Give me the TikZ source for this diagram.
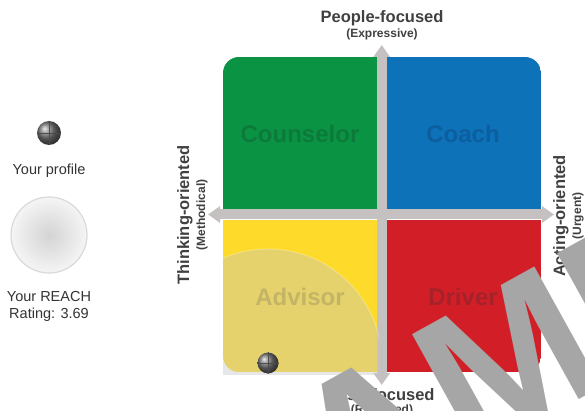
\documentclass[tikz,border=0pt]{standalone}
\usepackage{fontspec}
\setmainfont{Liberation Sans}
\usetikzlibrary{arrows.meta}
\definecolor{cgreen}{HTML}{0B9344}
\definecolor{cblue}{HTML}{0E72B9}
\definecolor{cyellow}{HTML}{FEDB2B}
\definecolor{cred}{HTML}{D21F27}
\definecolor{caxis}{HTML}{C6C1C1}
\definecolor{tgreen}{HTML}{0C7A3B}
\definecolor{tblue}{HTML}{0D5E9E}
\definecolor{tyellow}{HTML}{C4B466}
\definecolor{tred}{HTML}{A6222A}
\definecolor{labtext}{HTML}{404040}
\definecolor{wm}{HTML}{A6A6A6}
\tikzset{
  axislbl/.style={inner sep=0, text=labtext, font=\fontsize{16.5}{18}\selectfont\bfseries},
  axissub/.style={inner sep=0, text=labtext, font=\fontsize{12}{13}\selectfont\bfseries},
  quadlbl/.style={inner sep=0, font=\fontsize{24}{26}\selectfont\bfseries},
  sidetext/.style={inner sep=0, text=black!80, font=\fontsize{14.5}{16}\selectfont},
  axisarrow/.style={draw=caxis, line width=10pt, {Triangle[width=16pt,length=12pt]}-{Triangle[width=16pt,length=12pt]}},
  profdot/.style={circle, inner sep=0, shading=ball, ball color=black!55},
}
\begin{document}
\begin{tikzpicture}[x=1pt,y=-1pt]
\useasboundingbox (0,0) rectangle (585,411);
\begin{scope}
\clip (0,0) rectangle (585,411);
% quadrants
\begin{scope}
\clip[rounded corners=16] (223,57) rectangle (541,372);
\fill[cgreen] (223,57) rectangle (376.7,209);
\fill[cblue] (386.7,57) rectangle (541,209);
\fill[cyellow] (223,220) rectangle (376.7,372);
\fill[cred] (386.7,220) rectangle (541,372);
\end{scope}
% axes
\coordinate (ytop) at (381.7,45);
\coordinate (ybot) at (381.7,385);
\coordinate (xleft) at (208,214.5);
\coordinate (xright) at (554,214.5);
\draw[axisarrow] (ytop) -- (ybot);
\draw[axisarrow] (xleft) -- (xright);
% reach circle
\begin{scope}
\clip (223,57) rectangle (379,374);
\fill[black!22, opacity=0.42] (268,363) circle (114);
\draw[white, opacity=0.25, line width=1pt] (268,363) circle (114);
\end{scope}
% quadrant labels
\node[quadlbl, text=tgreen] (counselor) at (300,134) {Counselor};
\node[quadlbl, text=tblue] (coach) at (463,134) {Coach};
\node[quadlbl, text=tyellow] (advisor) at (300,297) {Advisor};
\node[quadlbl, text=tred] (driver) at (463,297) {Driver};
% profile dot on chart
\node[profdot, minimum size=21pt] (mydot) at (268,363) {};
\draw[black!70, line width=0.4pt] (mydot.north) -- (mydot.south) (mydot.west) -- (mydot.east);
% axis labels
\node[axislbl] (people) at (382,18) {People-focused};
\node[axissub] (expr) at (382,34) {(Expressive)};
\node[axislbl] (task) at (382,395) {Task-focused};
\node[axissub] (resv) at (382,410) {(Reserved)};
\node[axislbl, rotate=90] (think) at (185,215) {Thinking-oriented};
\node[axissub, rotate=90] (meth) at (202,215) {(Methodical)};
\node[axislbl, rotate=90] (act) at (561,216) {Acting-oriented};
\node[axissub, rotate=90] (urg) at (578,216) {(Urgent)};
% side legend
\node[profdot, minimum size=24pt] (legdot) at (49,133) {};
\draw[black!70, line width=0.4pt] (legdot.north) -- (legdot.south) (legdot.west) -- (legdot.east);
\node[sidetext] (yp) at (49,171) {Your profile};
\node[circle, minimum size=76pt, inner sep=0, draw=black!15, line width=1.2pt, inner color=black!17, outer color=black!4] (reach) at (49,235) {};
\node[sidetext] (yr) at (49,297) {Your REACH};
\node[sidetext] (rt) at (49,315) {Rating: 3.69};
% watermark
\node[rotate=29, anchor=base west, inner sep=0, text=wm, font=\fontsize{200}{200}\selectfont\bfseries] (wmark) at (224,596) {SAMPLE};
\end{scope}
\end{tikzpicture}
\end{document}
